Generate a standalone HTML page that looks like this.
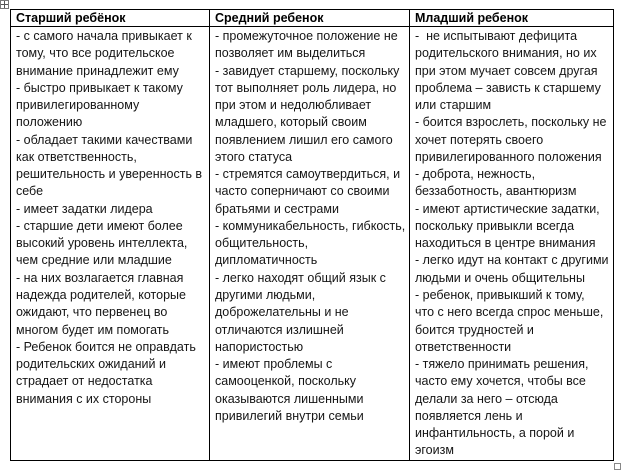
<!DOCTYPE html>
<html>
<head>
<meta charset="utf-8">
<style>
  html,body{margin:0;padding:0;background:#fff;}
  body{width:621px;height:473px;position:relative;overflow:hidden;
       font-family:"Liberation Sans","DejaVu Sans",sans-serif;color:#151515;}
  .ln{position:absolute;background:#000;}
  .col{position:absolute;white-space:nowrap;font-size:12.5px;line-height:17.27px;}
  .hd{position:absolute;white-space:nowrap;font-size:12.5px;line-height:17.27px;font-weight:bold;color:#000;}
</style>
</head>
<body>
<!-- move handle -->
<div style="position:absolute;left:0;top:0;width:7px;height:7px;border:1px solid #777;background:#fff;"></div>
<div style="position:absolute;left:4px;top:1px;width:1px;height:7px;background:#555;"></div>
<div style="position:absolute;left:1px;top:4px;width:7px;height:1px;background:#555;"></div>

<!-- table borders -->
<div class="ln" style="left:10px;top:9px;width:604px;height:1px;"></div>
<div class="ln" style="left:10px;top:26px;width:604px;height:1px;"></div>
<div class="ln" style="left:10px;top:460px;width:604px;height:1px;"></div>
<div class="ln" style="left:10px;top:9px;width:1px;height:452px;"></div>
<div class="ln" style="left:209px;top:9px;width:1px;height:452px;"></div>
<div class="ln" style="left:409px;top:9px;width:1px;height:452px;"></div>
<div class="ln" style="left:613px;top:9px;width:1px;height:452px;"></div>

<!-- small resize square -->
<div style="position:absolute;left:614px;top:463px;width:5px;height:5px;border:1px solid #888;background:#fff;"></div>

<!-- headers -->
<div class="hd" style="left:16px;top:10px;">Старший ребёнок</div>
<div class="hd" style="left:215px;top:10px;">Средний ребенок</div>
<div class="hd" style="left:415px;top:10px;">Младший ребенок</div>

<!-- column 1 -->
<div class="col" style="left:16px;top:28px;">
- с самого начала привыкает к<br>
тому, что все родительское<br>
внимание принадлежит ему<br>
- быстро привыкает к такому<br>
привилегированному<br>
положению<br>
- обладает такими качествами<br>
как ответственность,<br>
решительность и уверенность в<br>
себе<br>
- имеет задатки лидера<br>
- старшие дети имеют более<br>
высокий уровень интеллекта,<br>
чем средние или младшие<br>
- на них возлагается главная<br>
надежда родителей, которые<br>
ожидают, что первенец во<br>
многом будет им помогать<br>
- Ребенок боится не оправдать<br>
родительских ожиданий и<br>
страдает от недостатка<br>
внимания с их стороны
</div>

<!-- column 2 -->
<div class="col" style="left:215px;top:28px;">
- промежуточное положение не<br>
позволяет им выделиться<br>
- завидует старшему, поскольку<br>
тот выполняет роль лидера, но<br>
при этом и недолюбливает<br>
младшего, который своим<br>
появлением лишил его самого<br>
этого статуса<br>
- стремятся самоутвердиться, и<br>
часто соперничают со своими<br>
братьями и сестрами<br>
- коммуникабельность, гибкость,<br>
общительность,<br>
дипломатичность<br>
- легко находят общий язык с<br>
другими людьми,<br>
доброжелательны и не<br>
отличаются излишней<br>
напористостью<br>
- имеют проблемы с<br>
самооценкой, поскольку<br>
оказываются лишенными<br>
привилегий внутри семьи
</div>

<!-- column 3 -->
<div class="col" style="left:415px;top:28px;">
-&nbsp; не испытывают дефицита<br>
родительского внимания, но их<br>
при этом мучает совсем другая<br>
проблема – зависть к старшему<br>
или старшим<br>
- боится взрослеть, поскольку не<br>
хочет потерять своего<br>
привилегированного положения<br>
- доброта, нежность,<br>
беззаботность, авантюризм<br>
- имеют артистические задатки,<br>
поскольку привыкли всегда<br>
находиться в центре внимания<br>
- легко идут на контакт с другими<br>
людьми и очень общительны<br>
- ребенок, привыкший к тому,<br>
что с него всегда спрос меньше,<br>
боится трудностей и<br>
ответственности<br>
- тяжело принимать решения,<br>
часто ему хочется, чтобы все<br>
делали за него – отсюда<br>
появляется лень и<br>
инфантильность, а порой и<br>
эгоизм
</div>
</body>
</html>
